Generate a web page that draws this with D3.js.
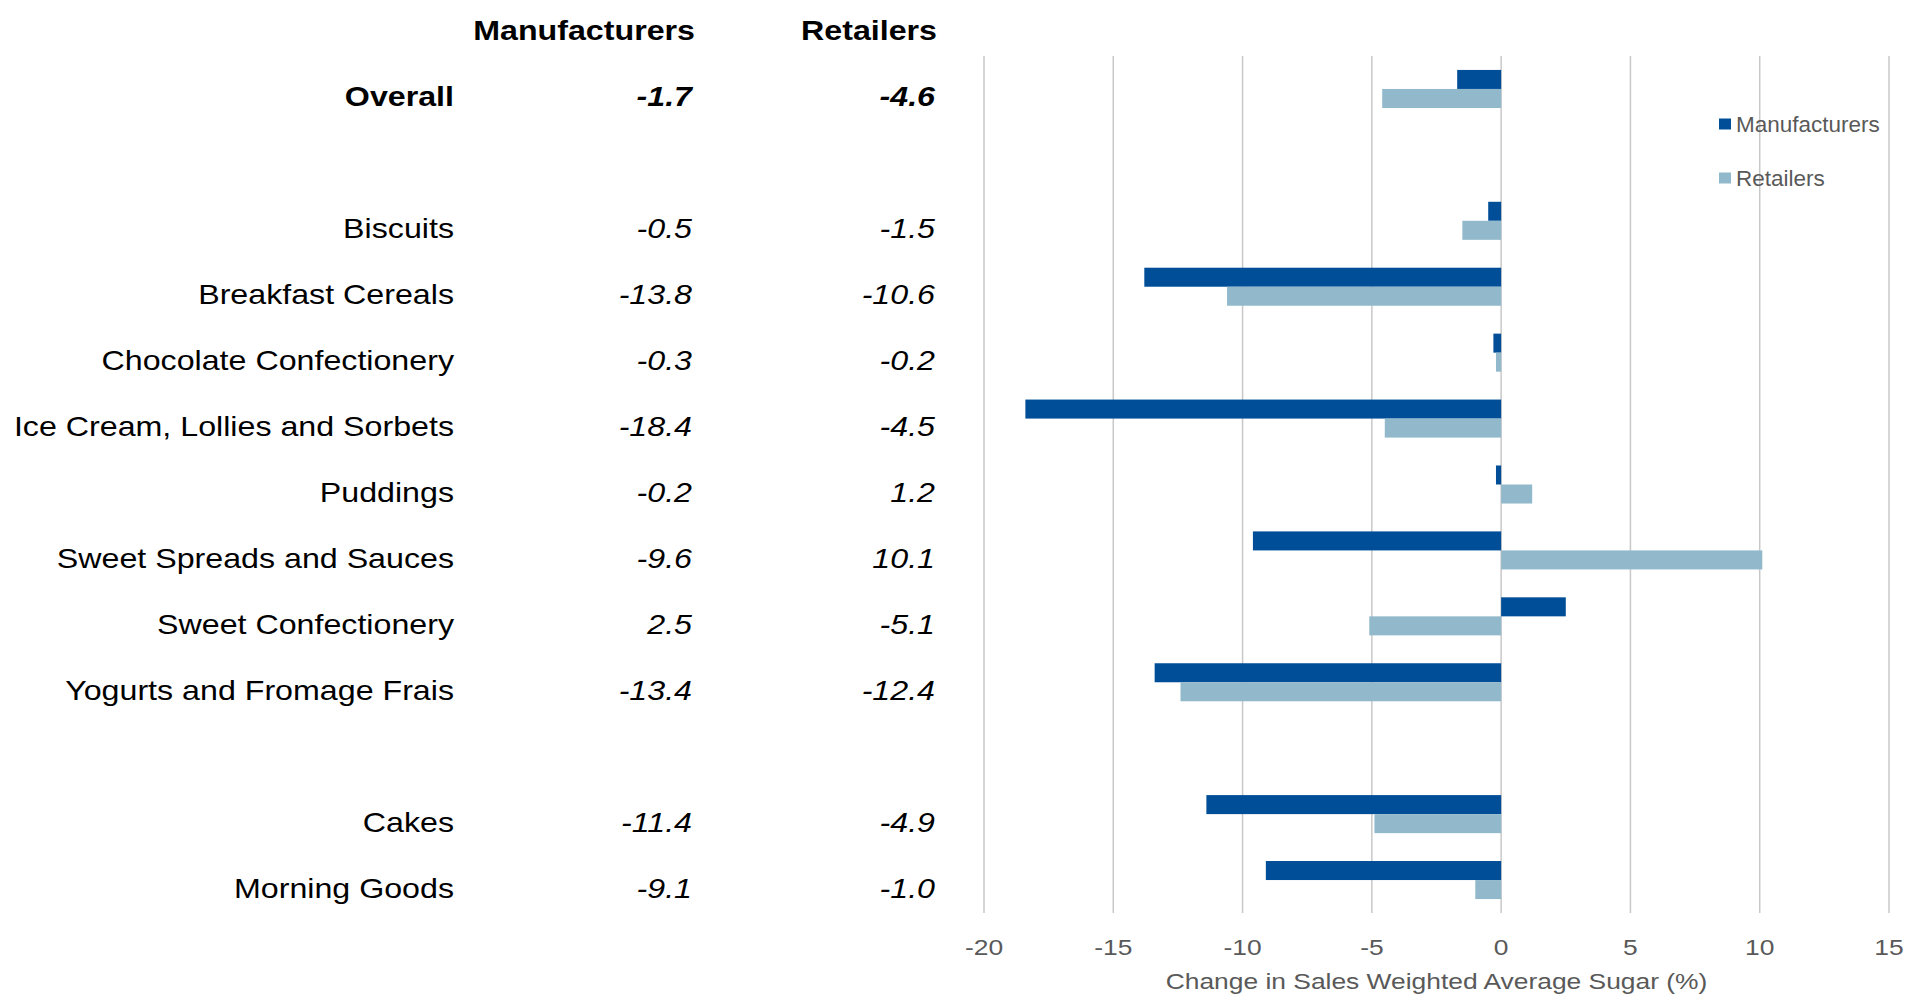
<!DOCTYPE html>
<meta charset="utf-8">
<style>
  body { margin: 0; background: white; }
  text { font-family: "Liberation Sans", Arial, sans-serif; }
</style>
<body>
<div id="chart"></div>
<script src="https://d3js.org/d3.v7.min.js"></script>
<script>
// rows in display order, null = empty spacer row
const categories = ["Overall", null, "Biscuits", "Breakfast Cereals", "Chocolate Confectionery",
  "Ice Cream, Lollies and Sorbets", "Puddings", "Sweet Spreads and Sauces", "Sweet Confectionery",
  "Yogurts and Fromage Frais", null, "Cakes", "Morning Goods"];
const manufacturers = [-1.7, null, -0.5, -13.8, -0.3, -18.4, -0.2, -9.6, 2.5, -13.4, null, -11.4, -9.1];
const retailers = [-4.6, null, -1.5, -10.6, -0.2, -4.5, 1.2, 10.1, -5.1, -12.4, null, -4.9, -1.0];
const series = ["Manufacturers", "Retailers"];
const xTicks = [-20, -15, -10, -5, 0, 5, 10, 15];
const axisTitle = "Change in Sales Weighted Average Sugar (%)";

const width = 1908, height = 995;
const colors = { Manufacturers: "#004e98", Retailers: "#92b9cb" };
const stretch = 1.13; // source text is a little wide

const svg = d3.select("#chart").append("svg")
    .attr("width", width)
    .attr("height", height);

const x = d3.scaleLinear().domain([-20, 15]).range([984, 1889]);
const y = d3.scaleBand()
    .domain(d3.range(categories.length))
    .range([56, 913])
    .paddingInner(0.423)
    .paddingOuter(0.2115);
const ySub = d3.scaleBand().domain(series).range([0, y.bandwidth()]);

// gridlines
svg.append("g")
  .selectAll("line")
  .data(xTicks)
  .join("line")
    .attr("x1", d => x(d)).attr("x2", d => x(d))
    .attr("y1", 56).attr("y2", 913)
    .attr("stroke", "#c8c8c8")
    .attr("stroke-width", 1.5);

// bars
const rows = categories.map((c, i) => ({ i, c, Manufacturers: manufacturers[i], Retailers: retailers[i] }))
  .filter(d => d.c !== null);

const bars = [];
rows.forEach(r => series.forEach(s => bars.push({ i: r.i, s, v: r[s] })));

svg.append("g")
  .selectAll("rect")
  .data(bars)
  .join("rect")
    .attr("x", d => x(Math.min(0, d.v)))
    .attr("width", d => Math.abs(x(d.v) - x(0)))
    .attr("y", d => y(d.i) + ySub(d.s))
    .attr("height", ySub.bandwidth())
    .attr("fill", d => colors[d.s]);

// table on the left
function stretchedText(g, tx, ty, txt, sx) {
  return g.append("text")
    .attr("transform", `translate(${tx},${ty}) scale(${sx},1)`)
    .attr("text-anchor", "end")
    .text(txt);
}

const table = svg.append("g").attr("fill", "#000");
const colLabel = 454, colManu = 692, colRet = 935;

stretchedText(table, 695, 40, "Manufacturers", stretch)
  .attr("font-size", 28.5).attr("font-weight", "bold");
stretchedText(table, 937, 40, "Retailers", stretch)
  .attr("font-size", 28.5).attr("font-weight", "bold");

rows.forEach(r => {
  const base = y(r.i) + y.bandwidth() / 2 + 17.5;
  const bold = r.c === "Overall" ? "bold" : "normal";
  stretchedText(table, colLabel, base, r.c, stretch)
    .attr("font-size", 28.5).attr("font-weight", bold);
  stretchedText(table, colManu, base, r.Manufacturers.toFixed(1), stretch)
    .attr("font-size", 28.5).attr("font-weight", bold).attr("font-style", "italic");
  stretchedText(table, colRet, base, r.Retailers.toFixed(1), stretch)
    .attr("font-size", 28.5).attr("font-weight", bold).attr("font-style", "italic");
});

// x axis labels
svg.append("g")
  .selectAll("text")
  .data(xTicks)
  .join("text")
    .attr("transform", d => `translate(${x(d)},955) scale(1.2,1)`)
    .attr("text-anchor", "middle")
    .attr("font-size", 22)
    .attr("fill", "#595959")
    .text(d => d);

svg.append("text")
    .attr("transform", `translate(${(x(-20) + x(15)) / 2},989) scale(1.2,1)`)
    .attr("text-anchor", "middle")
    .attr("font-size", 22)
    .attr("fill", "#595959")
    .text(axisTitle);

// legend
const legend = svg.append("g")
  .selectAll("g")
  .data(series)
  .join("g")
    .attr("transform", (d, i) => `translate(1719,${124 + i * 54})`);
legend.append("rect")
    .attr("x", 0).attr("y", -5.5)
    .attr("width", 12).attr("height", 11)
    .attr("fill", d => colors[d]);
legend.append("text")
    .attr("x", 17).attr("y", 7.5)
    .attr("font-size", 22.5)
    .attr("fill", "#595959")
    .text(d => d);
</script>
</body>
